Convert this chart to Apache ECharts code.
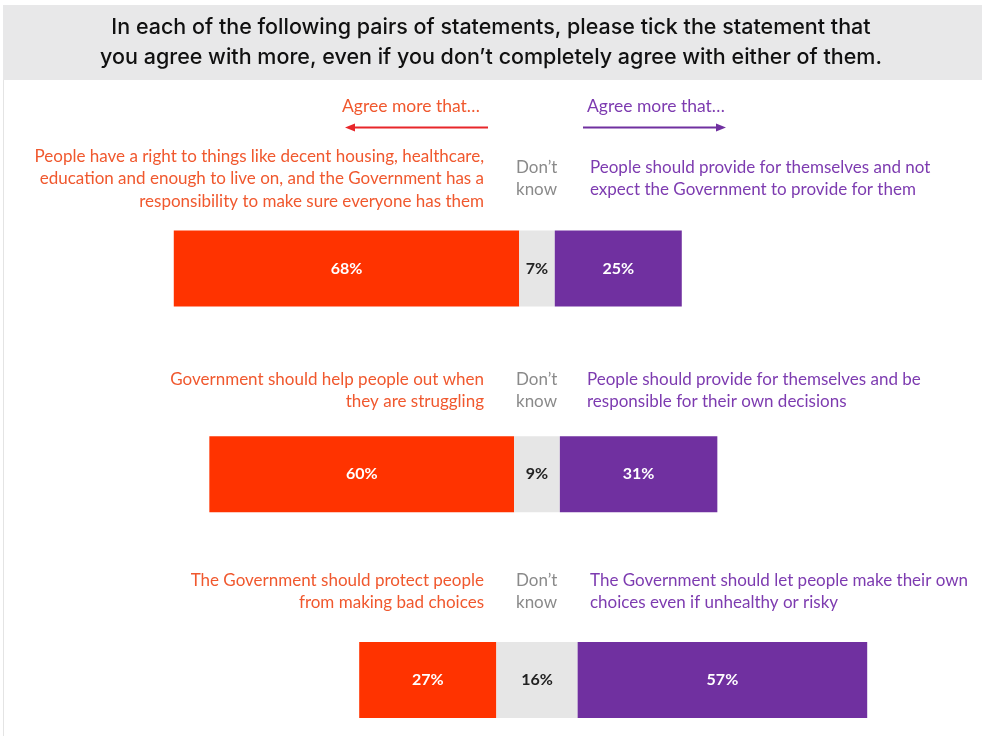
<!DOCTYPE html>
<html>
<head>
<meta charset="utf-8">
<script src="https://cdn.jsdelivr.net/npm/echarts@6/dist/echarts.min.js"></script>
<style>
  html, body { margin: 0; padding: 0; background: #ffffff; }
  #chart { width: 982px; height: 736px; }
</style>
</head>
<body>
<div id="chart"></div>
<script>
// Survey question pairs: share agreeing with the left statement, don't know, right statement
const questions = ['Q1', 'Q2', 'Q3'];
const agreeLeft = [68, 60, 27];
const dontKnow = [7, 9, 16];
const agreeRight = [25, 31, 57];

const leftStatements = [
  ['People have a right to things like decent housing, healthcare,',
   'education and enough to live on, and the Government has a',
   'responsibility to make sure everyone has them'],
  ['Government should help people out when', 'they are struggling'],
  ['The Government should protect people', 'from making bad choices']
];
const rightStatements = [
  ['People should provide for themselves and not',
   'expect the Government to provide for them'],
  ['People should provide for themselves and be',
   'responsible for their own decisions'],
  ['The Government should let people make their own',
   'choices even if unhealthy or risky']
];
const headerText = [
  'In each of the following pairs of statements, please tick the statement that',
  'you agree with more, even if you don\u2019t completely agree with either of them.'
];

// Each bar is centred on the middle of its "don't know" segment
const CENTER = 80;
const offsets = agreeLeft.map((v, i) => CENTER - v - dontKnow[i] / 2);

const ORANGE = '#ff3300';
const PURPLE = '#7030a0';
const GREY = '#e6e6e6';
const ORANGE_TXT = '#f0582e';
const PURPLE_TXT = '#7d3bb0';
const FONT = 'Lato, "Open Sans", sans-serif';
const TXT = '17px ' + FONT;

const chart = echarts.init(document.getElementById('chart'), null, { renderer: 'canvas' });

// Statement text blocks above each bar
const textBlocks = [];
const blockTops = [[145, 156], [368, 368], [569, 569]];
leftStatements.forEach((lines, i) => {
  textBlocks.push({
    type: 'text', right: 982 - 484, top: blockTops[i][0],
    style: { text: lines.join('\n'), fill: ORANGE_TXT, font: TXT,
             textAlign: 'right', lineHeight: 22.5 }
  });
  textBlocks.push({
    type: 'text', left: 516, top: blockTops[i][1],
    style: { text: 'Don\u2019t\nknow', fill: '#8a8a8a', font: TXT, lineHeight: 22.5 }
  });
  textBlocks.push({
    type: 'text', left: i === 1 ? 587 : 590, top: blockTops[i][1],
    style: { text: rightStatements[i].join('\n'), fill: PURPLE_TXT, font: TXT, lineHeight: 22.5 }
  });
});

chart.setOption({
  animation: false,
  // category ticks sit on the grid edges, so the first and last bars line up with top/bottom
  grid: { left: 130.6, width: 812.8, top: 268.5, height: 411.5, containLabel: false },
  xAxis: { type: 'value', min: 0, max: 160, show: false },
  yAxis: { type: 'category', data: questions, inverse: true, show: false, boundaryGap: false },
  graphic: [
    // header band
    { type: 'rect', shape: { x: 3, y: 5, width: 979, height: 75 }, style: { fill: '#e8e8e9' } },
    { type: 'line', shape: { x1: 3.5, y1: 80, x2: 3.5, y2: 736 }, style: { stroke: '#e4e4e4', lineWidth: 1 } },
    {
      type: 'text', left: 'center', top: 13,
      style: { text: headerText.join('\n'), fill: '#111111', font: '500 21.5px Inter, Roboto, sans-serif',
               textAlign: 'center', lineHeight: 30 }
    },
    // direction cues
    { type: 'text', left: 342, top: 97, style: { text: 'Agree more that\u2026', fill: ORANGE_TXT, font: '17.5px ' + FONT } },
    { type: 'line', shape: { x1: 352, y1: 127.5, x2: 488, y2: 127.5 }, style: { stroke: '#e8262a', lineWidth: 2 } },
    { type: 'polygon', shape: { points: [[345, 127.5], [355, 123.5], [355, 131.5]] }, style: { fill: '#e8262a' } },
    { type: 'text', left: 587, top: 97, style: { text: 'Agree more that\u2026', fill: PURPLE_TXT, font: '17.5px ' + FONT } },
    { type: 'line', shape: { x1: 583, y1: 127.5, x2: 718, y2: 127.5 }, style: { stroke: PURPLE, lineWidth: 2 } },
    { type: 'polygon', shape: { points: [[726, 127.5], [716, 123.5], [716, 131.5]] }, style: { fill: PURPLE } }
  ].concat(textBlocks),
  series: [
    {
      name: 'offset', type: 'bar', stack: 'all', data: offsets, barWidth: 76,
      itemStyle: { color: 'rgba(0,0,0,0)' }, silent: true
    },
    {
      name: 'Agree left', type: 'bar', stack: 'all', data: agreeLeft, barWidth: 76,
      itemStyle: { color: ORANGE },
      label: { show: true, position: 'inside', formatter: '{c}%', color: '#ffffff',
               fontFamily: FONT, fontWeight: 'bold', fontSize: 16 }
    },
    {
      name: 'Don\u2019t know', type: 'bar', stack: 'all', data: dontKnow, barWidth: 76,
      itemStyle: { color: GREY },
      label: { show: true, position: 'inside', formatter: '{c}%', color: '#222222',
               fontFamily: FONT, fontWeight: 'bold', fontSize: 16 }
    },
    {
      name: 'Agree right', type: 'bar', stack: 'all', data: agreeRight, barWidth: 76,
      itemStyle: { color: PURPLE },
      label: { show: true, position: 'inside', formatter: '{c}%', color: '#ffffff',
               fontFamily: FONT, fontWeight: 'bold', fontSize: 16 }
    }
  ]
});
</script>
</body>
</html>
